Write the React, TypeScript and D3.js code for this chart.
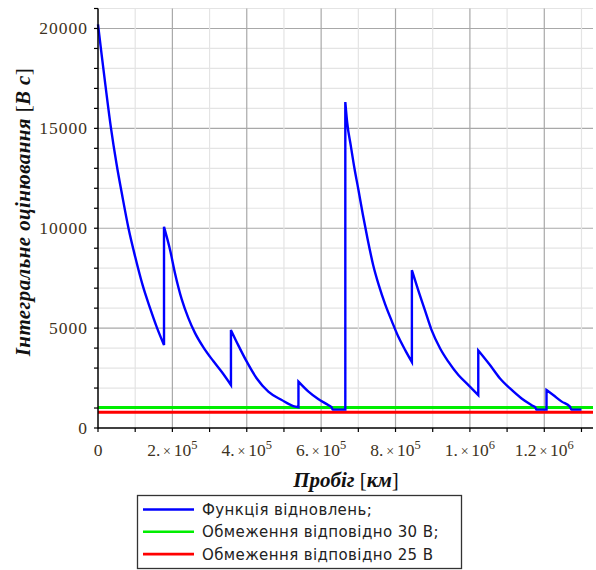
import React from "react";
import * as d3 from "d3";

// Blue "recovery function" curve (km, V·s)
const mileageKm = [
  0, 10000, 20000, 35000, 50000, 65000, 82000, 100000, 120000, 140000, 158000, 177500,
  177500, 194000, 207000, 225000, 243000, 261000, 283000, 310000, 333000, 357500,
  357500, 377000, 400000, 427000, 458000, 494000, 525000, 539000,
  539000, 566000, 592000, 619000, 628000, 631000, 665000,
  665000, 670000, 680000, 690000, 700000, 712000, 725000, 740000, 755000, 772000, 790000, 808000, 826000, 844000,
  844000, 861000, 879000, 897000, 920000, 942000, 969000, 996000, 1022500,
  1022500, 1054000, 1081000, 1108000, 1139000, 1170000, 1176000, 1179000, 1206000,
  1206000, 1224000, 1247000, 1269000, 1273000, 1300000,
];
const integralValue = [
  20200, 18650, 17150, 15000, 13200, 11650, 10000, 8570, 7150, 6000, 5050, 4150,
  10070, 8900, 7750, 6450, 5500, 4750, 4050, 3350, 2800, 2150,
  4900, 4150, 3320, 2480, 1820, 1400, 1100, 1040,
  2320, 1820, 1450, 1150, 1040, 920, 920,
  16320, 15300, 14100, 12950, 11950, 10700, 9450, 8150, 7150, 6200, 5350, 4550, 3900, 3300,
  7900, 6900, 5900, 4900, 3980, 3320, 2650, 2150, 1650,
  3880, 3150, 2480, 1980, 1480, 1100, 1030, 920, 920,
  1900, 1650, 1320, 1070, 920, 920,
];

const limit30V = 1030;
const limit25V = 790;

const xDomain = [0, 1331000];
const yDomain = [0, 21000];

const yMajorTicks = [0, 5000, 10000, 15000, 20000];
const yTickLabels = ["0", "5000", "10000", "15000", "20000"];
const xMajorTicks = [0, 200000, 400000, 600000, 800000, 1000000, 1200000];
const xTickMantissa = ["0", "2.", "4.", "6.", "8.", "1.", "1.2"];
const xTickExponent = ["", "5", "5", "5", "5", "6", "6"];

const legendLabels = [
  "Функція відновлень;",
  "Обмеження відповідно 30 В;",
  "Обмеження відповідно 25 В",
];
const legendColors = ["#0000ff", "#00ee00", "#ff0000"];

const W = 596;
const H = 570;
const left = 98;
const right = 593;
const top = 8.5;
const bottom = 428;

export default function App() {
  const x = d3.scaleLinear().domain(xDomain).range([left, right]);
  const y = d3.scaleLinear().domain(yDomain).range([bottom, top]);

  // split the curve into continuous pieces at the vertical jumps
  const segments: [number, number][][] = [];
  let cur: [number, number][] = [];
  mileageKm.forEach((m, i) => {
    if (cur.length && cur[cur.length - 1][0] === m) {
      segments.push(cur);
      cur = [];
    }
    cur.push([m, integralValue[i]]);
  });
  segments.push(cur);

  const smooth = d3
    .line<[number, number]>()
    .x((d) => x(d[0]))
    .y((d) => y(d[1]))
    .curve(d3.curveMonotoneX);

  let d = "";
  segments.forEach((seg, i) => {
    const part = smooth(seg) || "";
    d += i === 0 ? part : "L" + part.slice(1);
  });

  const yMinor = d3.range(1000, 21001, 1000);
  const xMinor = d3.range(100000, 1300001, 100000);

  const serif = "'Liberation Serif', 'Times New Roman', serif";
  const sans = "'DejaVu Sans', Verdana, sans-serif";
  const tickColor = "#3d3222";

  return (
    <svg
      width={W}
      height={H}
      style={{ position: "absolute", left: 0, top: 0, background: "#fff" }}
    >
      {/* grid */}
      {yMinor.map((v) => (
        <line key={"ym" + v} x1={left} x2={right} y1={y(v)} y2={y(v)}
          stroke={v % 5000 === 0 ? "#a8a8a8" : "#e4e4e4"} strokeWidth={1.2} />
      ))}
      {xMinor.map((v) => (
        <line key={"xm" + v} x1={x(v)} x2={x(v)} y1={top} y2={bottom}
          stroke={v % 200000 === 0 ? "#a8a8a8" : "#e4e4e4"} strokeWidth={1.2} />
      ))}

      {/* limit lines */}
      <line x1={left} x2={right} y1={y(limit30V)} y2={y(limit30V)} stroke="#00ee00" strokeWidth={3} />
      <line x1={left} x2={right} y1={y(limit25V)} y2={y(limit25V)} stroke="#ff0000" strokeWidth={3} />

      {/* recovery function */}
      <path d={d} fill="none" stroke="#0000ff" strokeWidth={2.4} strokeLinejoin="miter" />

      {/* axes */}
      <line x1={left} x2={left} y1={top} y2={bottom + 0.5} stroke="#000" strokeWidth={1.5} />
      <line x1={left} x2={right} y1={bottom} y2={bottom} stroke="#000" strokeWidth={1.5} />
      {yMinor.concat([0]).map((v) => (
        <line key={"yt" + v} x1={left - 4} x2={left} y1={y(v)} y2={y(v)} stroke="#000" strokeWidth={1.2} />
      ))}
      {[0].concat(xMinor).map((v) => (
        <line key={"xt" + v} x1={x(v)} x2={x(v)} y1={bottom} y2={bottom + 4} stroke="#000" strokeWidth={1.2} />
      ))}

      {/* y tick labels */}
      {yMajorTicks.map((v, i) => (
        <text key={"yl" + v} x={left - 10} y={y(v) + 6} textAnchor="end"
          fontFamily={serif} fontSize={17.5} letterSpacing={1} fill={tickColor}>
          {yTickLabels[i]}
        </text>
      ))}

      {/* x tick labels */}
      {xMajorTicks.map((v, i) => (
        <text key={"xl" + v} x={x(v)} y={456} textAnchor="middle"
          fontFamily={serif} fontSize={17.5} fill={tickColor}>
          {xTickExponent[i] === "" ? (
            xTickMantissa[i]
          ) : (
            <>
              <tspan>{xTickMantissa[i]}</tspan>
              <tspan fontSize={14}>{"\u2009×\u2009"}</tspan>
              <tspan>10</tspan>
              <tspan fontSize={12.5} dy={-7}>{xTickExponent[i]}</tspan>
            </>
          )}
        </text>
      ))}

      {/* axis titles */}
      <text x={346} y={487} textAnchor="middle" fontFamily={serif} fontSize={21} fill="#111">
        <tspan fontWeight="bold" fontStyle="italic">Пробіг</tspan>
        <tspan> [</tspan>
        <tspan fontWeight="bold" fontStyle="italic">км</tspan>
        <tspan>]</tspan>
      </text>
      <text transform="translate(30,212) rotate(-90)" textAnchor="middle" fontFamily={serif} fontSize={21}
        letterSpacing={0.4} fill="#111">
        <tspan fontWeight="bold" fontStyle="italic">Інтегральне оцінювання</tspan>
        <tspan> [</tspan>
        <tspan fontWeight="bold" fontStyle="italic">В с</tspan>
        <tspan>]</tspan>
      </text>

      {/* legend */}
      <rect x={137.5} y={495.5} width={324} height={73} fill="#fff" stroke="#333" strokeWidth={1.3} />
      {legendLabels.map((lab, i) => {
        const cy = 509.5 + i * 22.3;
        return (
          <g key={"lg" + i}>
            <line x1={143} x2={194} y1={cy} y2={cy} stroke={legendColors[i]} strokeWidth={2.6} />
            <text x={202} y={cy + 5.5} fontFamily={sans} fontSize={15} letterSpacing={0.4} fill="#222">
              {lab}
            </text>
          </g>
        );
      })}
    </svg>
  );
}
